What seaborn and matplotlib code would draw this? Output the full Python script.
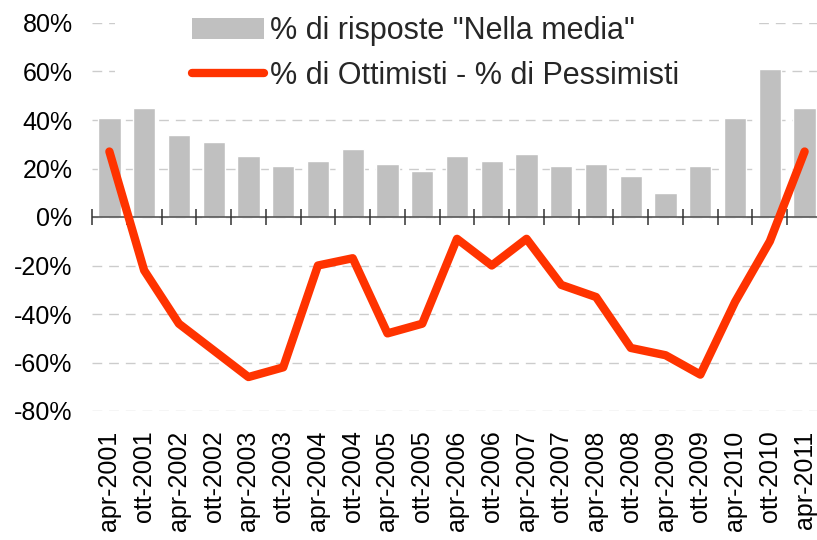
import matplotlib
matplotlib.use('Agg')
import matplotlib.pyplot as plt
import seaborn as sns
import pandas as pd
import numpy as np
from matplotlib.lines import Line2D
from matplotlib.patches import Patch, Rectangle
from matplotlib.ticker import FuncFormatter

# dati
periodi = ['apr-2001', 'ott-2001', 'apr-2002', 'ott-2002', 'apr-2003', 'ott-2003',
           'apr-2004', 'ott-2004', 'apr-2005', 'ott-2005', 'apr-2006', 'ott-2006',
           'apr-2007', 'ott-2007', 'apr-2008', 'ott-2008', 'apr-2009', 'ott-2009',
           'apr-2010', 'ott-2010', 'apr-2011']
nella_media = [41, 45, 34, 31, 25, 21, 23, 28, 22, 19, 25, 23, 26, 21, 22, 17, 10, 21, 41, 61, 45]
saldo = [27, -22, -44, -55, -66, -62, -20, -17, -48, -44, -9, -20, -9, -28, -33, -54, -57, -65, -35, -10, 27]

lab_bar = '% di risposte "Nella media"'
lab_line = '% di Ottimisti - % di Pessimisti'

grigio = '#c0c0c0'
rosso = '#ff3300'

sns.set_style('white')
plt.rcParams['font.family'] = ['Liberation Sans', 'DejaVu Sans']
plt.rcParams['axes.unicode_minus'] = False

df = pd.DataFrame({'periodo': periodi, 'media': nella_media, 'saldo': saldo})
df['pos'] = np.arange(len(df))

fig = plt.figure(figsize=(8.17, 5.4), dpi=100)
ax = fig.add_axes([92 / 817, 129 / 540, 730 / 817, 388 / 540])

sns.barplot(data=df, x='periodo', y='media', color=grigio, saturation=1,
            width=0.64, ax=ax, zorder=2)
sns.lineplot(data=df, x='pos', y='saldo', sort=False, color=rosso, lw=6,
             solid_capstyle='round', solid_joinstyle='round', ax=ax, zorder=4)

ax.set_xlim(-0.5, len(periodi) - 0.5)
ax.set_ylim(-80, 80)
ax.set_yticks(range(-80, 81, 20))
ax.yaxis.set_major_formatter(FuncFormatter(lambda v, p: f'{v:.0f}%'))
ax.set_xticks(df['pos'])
ax.set_xticklabels(periodi, rotation=90)
ax.set_xlabel('')
ax.set_ylabel('')

for s in ax.spines.values():
    s.set_visible(False)
ax.tick_params(axis='y', length=0, pad=14, labelsize=18, labelcolor='black')
ax.tick_params(axis='x', length=0, pad=14, labelsize=18, labelcolor='black')
ax.yaxis.grid(True, ls=(0, (7, 5)), color='#cccccc', lw=1)
ax.set_axisbelow(True)

# asse dello zero con tacche tra le categorie
ax.axhline(0, color='#555555', lw=1.2, zorder=3)
confini = np.arange(len(periodi) + 1) - 0.5
ax.plot(confini, np.zeros(len(confini)), ls='none', marker='|', ms=11,
        mew=1.1, color='#333333', zorder=3, clip_on=False)

# fondo bianco della legenda (copre la griglia)
ax.add_patch(Rectangle((115 / 817, 1 - 100 / 540), (753 - 115) / 817, 100 / 540,
                       transform=fig.transFigure, fc='white', ec='none',
                       zorder=1, clip_on=False))

handles = [Patch(facecolor=grigio, edgecolor='none'),
           Line2D([0], [0], color=rosso, lw=6, solid_capstyle='round')]
fig.legend(handles, [lab_bar, lab_line], loc='upper left',
           bbox_to_anchor=(0.228, 0.981), frameon=False, fontsize=22,
           handlelength=2.35, handletextpad=0.2, labelspacing=0.47,
           borderaxespad=0, borderpad=0.2)

fig.savefig('out.png', dpi=100)
